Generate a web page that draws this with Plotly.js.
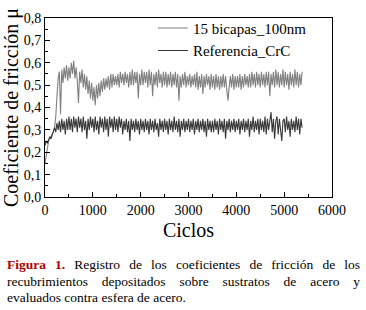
<!DOCTYPE html>
<html>
<head>
<meta charset="utf-8">
<script src="https://cdn.plot.ly/plotly-3.0.1.min.js"></script>
<style>
  html, body { margin: 0; padding: 0; background: #fff; }
  #wrap { position: relative; width: 366px; height: 310px; overflow: hidden; }
  #chart { position: absolute; left: 0; top: 0; width: 366px; height: 310px; }
  #caption {
    position: absolute; left: 7px; top: 257px; width: 353px;
    font-family: "Liberation Serif";
    font-size: 13.5px; line-height: 16.5px; color: #000;
  }
  #caption .j { text-align: justify; text-align-last: justify; white-space: nowrap; }
  #caption .l { text-align: left; white-space: nowrap; }
  #caption b { color: #b00000; }
</style>
</head>
<body>
<div id="wrap">
  <div id="chart"></div>
  <div id="caption">
    <div class="j"><b>Figura 1.</b> Registro de los coeficientes de fricción de los</div>
    <div class="j">recubrimientos depositados sobre sustratos de acero y</div>
    <div class="l">evaluados contra esfera de acero.</div>
  </div>
</div>
<script>
// Sampling step of the friction records (cycles)
var cycleStep = 25;

// "15 bicapas_100nm" friction coefficient
var bicapas = [
  0.15,0.19,0.23,0.25,0.26,0.27,0.28,0.29,0.31,0.36,0.45,0.53,0.56,0.37,0.57,0.51,0.58,0.53,0.59,0.52,
  0.58,0.53,0.60,0.55,0.61,0.53,0.58,0.52,0.42,0.56,0.51,0.57,0.49,0.55,0.48,0.54,0.46,0.52,0.44,0.51,
  0.43,0.49,0.41,0.50,0.44,0.51,0.45,0.52,0.47,0.53,0.48,0.53,0.49,0.54,0.48,0.55,0.49,0.55,0.50,0.54,
  0.50,0.55,0.49,0.56,0.51,0.55,0.50,0.56,0.51,0.55,0.49,0.56,0.50,0.57,0.50,0.56,0.51,0.56,0.44,0.55,
  0.50,0.57,0.50,0.56,0.51,0.56,0.49,0.57,0.50,0.56,0.45,0.55,0.50,0.56,0.49,0.57,0.51,0.55,0.49,0.56,
  0.50,0.56,0.49,0.55,0.50,0.56,0.49,0.55,0.50,0.56,0.49,0.55,0.43,0.54,0.49,0.55,0.50,0.56,0.49,0.54,
  0.50,0.55,0.49,0.54,0.50,0.55,0.49,0.56,0.48,0.54,0.49,0.55,0.46,0.54,0.49,0.55,0.50,0.54,0.48,0.55,
  0.49,0.54,0.48,0.55,0.49,0.54,0.48,0.54,0.49,0.55,0.49,0.54,0.48,0.43,0.49,0.54,0.49,0.55,0.48,0.54,
  0.49,0.54,0.49,0.55,0.48,0.54,0.49,0.55,0.50,0.54,0.49,0.55,0.49,0.56,0.50,0.55,0.49,0.56,0.50,0.55,
  0.49,0.56,0.50,0.55,0.49,0.56,0.50,0.56,0.45,0.55,0.50,0.56,0.49,0.57,0.50,0.56,0.49,0.55,0.50,0.57,
  0.49,0.56,0.50,0.55,0.48,0.56,0.50,0.55,0.49,0.57,0.50,0.56,0.49,0.55,0.50,0.56
];

// "Referencia_CrC" friction coefficient
var referencia = [
  0.23,0.25,0.24,0.26,0.27,0.26,0.28,0.29,0.31,0.29,0.33,0.30,0.34,0.29,0.35,0.30,0.34,0.28,0.35,0.30,
  0.36,0.30,0.35,0.29,0.36,0.31,0.35,0.29,0.36,0.31,0.35,0.29,0.36,0.30,0.34,0.26,0.35,0.30,0.36,0.31,
  0.35,0.29,0.36,0.30,0.34,0.28,0.36,0.31,0.35,0.29,0.36,0.30,0.35,0.27,0.36,0.31,0.35,0.29,0.36,0.30,
  0.35,0.29,0.36,0.31,0.35,0.28,0.34,0.30,0.35,0.29,0.34,0.25,0.35,0.30,0.34,0.29,0.35,0.30,0.34,0.28,
  0.35,0.30,0.34,0.29,0.35,0.30,0.34,0.28,0.35,0.30,0.34,0.29,0.35,0.30,0.33,0.27,0.35,0.30,0.34,0.29,
  0.35,0.30,0.34,0.28,0.35,0.30,0.34,0.29,0.36,0.30,0.34,0.29,0.35,0.27,0.34,0.30,0.35,0.29,0.34,0.30,
  0.35,0.29,0.34,0.30,0.35,0.28,0.34,0.30,0.35,0.29,0.34,0.30,0.35,0.29,0.34,0.27,0.35,0.30,0.34,0.29,
  0.34,0.29,0.35,0.30,0.34,0.28,0.35,0.30,0.34,0.29,0.35,0.26,0.34,0.30,0.35,0.29,0.34,0.30,0.35,0.29,
  0.34,0.30,0.35,0.28,0.34,0.30,0.35,0.29,0.34,0.30,0.35,0.27,0.34,0.30,0.36,0.29,0.34,0.30,0.35,0.28,
  0.35,0.30,0.34,0.29,0.36,0.28,0.35,0.30,0.34,0.38,0.29,0.35,0.26,0.34,0.36,0.28,0.35,0.30,0.25,0.34,
  0.35,0.29,0.36,0.30,0.34,0.27,0.35,0.30,0.34,0.29,0.36,0.30,0.35,0.28,0.35,0.31
];

var seriesNames = ["15 bicapas_100nm", "Referencia_CrC"];
var xTickVals = [0, 1000, 2000, 3000, 4000, 5000, 6000];
var yTickVals = [0.0, 0.1, 0.2, 0.3, 0.4, 0.5, 0.6, 0.7, 0.8];

var cycles1 = bicapas.map(function (_, i) { return i * cycleStep; });
var cycles2 = referencia.map(function (_, i) { return i * cycleStep; });

var serif = "Liberation Serif";

var traces = [
  { x: cycles1, y: bicapas, name: seriesNames[0], type: "scatter", mode: "lines",
    line: { color: "#808080", width: 1.1 } },
  { x: cycles2, y: referencia, name: seriesNames[1], type: "scatter", mode: "lines",
    line: { color: "#383838", width: 1.1 } }
];

var layout = {
  width: 366, height: 310,
  margin: { l: 45, r: 34, t: 13, b: 113, pad: 0 },
  paper_bgcolor: "rgba(0,0,0,0)", plot_bgcolor: "rgba(0,0,0,0)",
  separators: ",.",
  font: { family: serif, color: "#000", size: 13 },
  showlegend: true,
  legend: {
    x: 0.376, xanchor: "left", y: 1.035, yanchor: "top",
    bgcolor: "rgba(0,0,0,0)", borderwidth: 0,
    font: { family: serif, size: 15, color: "#000" },
    tracegroupgap: 0
  },
  xaxis: {
    range: [0, 6000], tickvals: xTickVals, ticks: "inside", ticklen: 5, tickwidth: 1,
    tickcolor: "#000", showline: true, linecolor: "#000", linewidth: 1, mirror: true,
    showgrid: false, zeroline: false, tickfont: { family: serif, size: 14 },
    minor: { dtick: 500, ticks: "inside", ticklen: 3, tickcolor: "#000", showgrid: false },
    title: { text: "Ciclos", font: { family: serif, size: 20 }, standoff: 6 }
  },
  yaxis: {
    range: [0, 0.8], tickvals: yTickVals, tickformat: ".1f", ticks: "inside", ticklen: 5, tickwidth: 1,
    tickcolor: "#000", showline: true, linecolor: "#000", linewidth: 1, mirror: true,
    showgrid: false, zeroline: false, tickfont: { family: serif, size: 14 },
    minor: { dtick: 0.05, ticks: "inside", ticklen: 3, tickcolor: "#000", showgrid: false },
    title: { text: "Coeficiente de fricción μ", font: { family: serif, size: 20 }, standoff: 2 }
  }
};

Plotly.newPlot("chart", traces, layout, { staticPlot: true, displayModeBar: false });
</script>
</body>
</html>
